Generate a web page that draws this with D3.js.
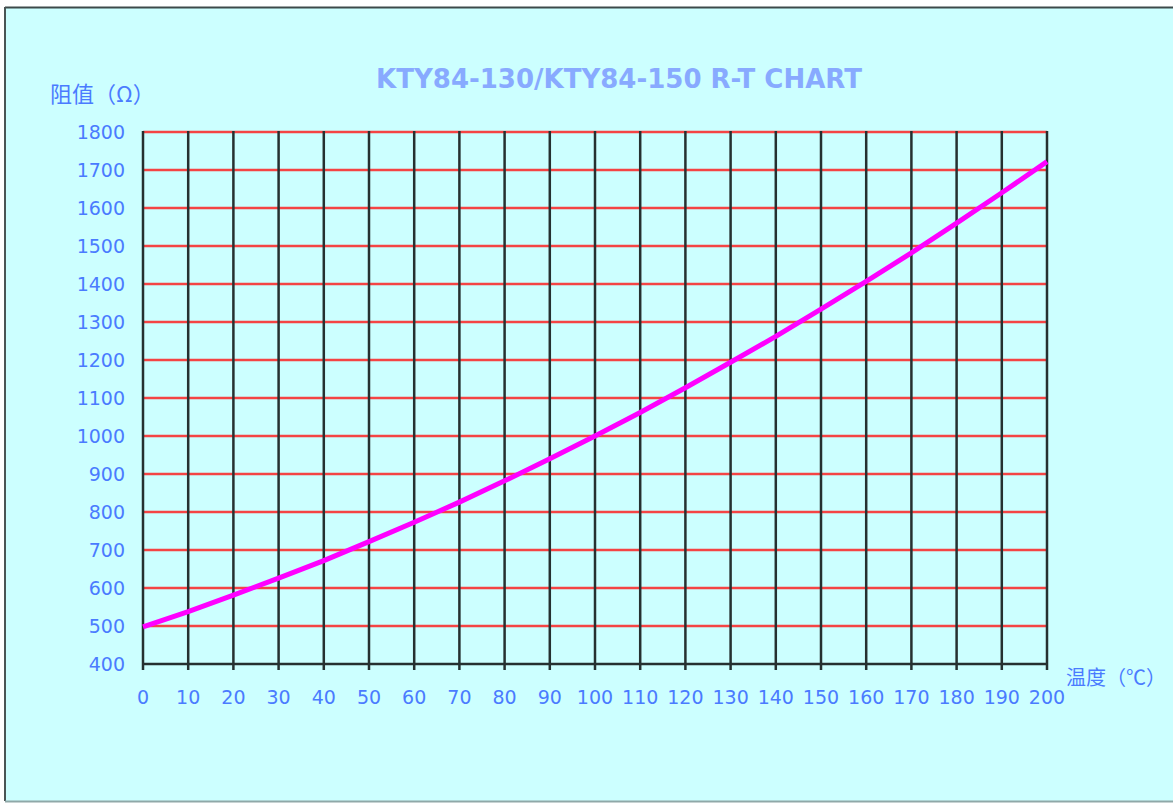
<!DOCTYPE html>
<html>
<head>
<meta charset="utf-8">
<script src="https://cdn.jsdelivr.net/npm/d3@7/dist/d3.min.js"></script>
<style>
  body { margin: 0; background: #fff; }
  svg { display: block; }
</style>
</head>
<body>
<svg id="chart" width="1173" height="803"></svg>
<script>
// R-T values (KTY84-130)
var temps = [0, 10, 20, 30, 40, 50, 60, 70, 80, 90, 100, 110, 120, 130, 140, 150, 160, 170, 180, 190, 200];
var resist = [498, 538, 581, 626, 672, 722, 773, 826, 882, 940, 1000, 1062, 1127, 1194, 1262, 1334, 1407, 1482, 1560, 1640, 1722];
var xTicks = d3.range(0, 201, 10);
var yTicks = d3.range(400, 1801, 100);

var title = 'KTY84-130/KTY84-150 R-T CHART';
var yTitle = '阻值（Ω）';
var xTitle = '温度（℃）';

var svg = d3.select('#chart');
var fontFam = '"DejaVu Sans", Verdana, "Noto Sans CJK SC", sans-serif';
var cjkFam = '"Noto Sans CJK SC", sans-serif';
var labelColor = '#4a7bff';

// background panel
svg.append('rect')
  .attr('x', 5).attr('y', 7)
  .attr('width', 1173).attr('height', 794)
  .attr('fill', '#ccffff');
svg.append('line').attr('x1', 5).attr('x2', 1173).attr('y1', 7.5).attr('y2', 7.5)
  .attr('stroke', '#3d4a4a').attr('stroke-width', 2);
svg.append('line').attr('x1', 5).attr('x2', 5).attr('y1', 7).attr('y2', 801)
  .attr('stroke', '#4a5555').attr('stroke-width', 2);
svg.append('line').attr('x1', 5).attr('x2', 1173).attr('y1', 801.5).attr('y2', 801.5)
  .attr('stroke', '#8fa8a8').attr('stroke-width', 2);

var x = d3.scaleLinear().domain([0, 200]).range([143, 1047]);
var y = d3.scaleLinear().domain([400, 1800]).range([664, 132]);

var g = svg.append('g');

// horizontal red grid
g.selectAll('.hgrid')
  .data(yTicks.filter(function(d) { return d > 400; }))
  .enter().append('line')
  .attr('class', 'hgrid')
  .attr('x1', x(0)).attr('x2', x(200))
  .attr('y1', function(d) { return y(d); })
  .attr('y2', function(d) { return y(d); })
  .attr('stroke', '#f44444')
  .attr('stroke-width', 2.5);

// vertical dark grid, extending below axis as ticks
g.selectAll('.vgrid')
  .data(xTicks)
  .enter().append('line')
  .attr('class', 'vgrid')
  .attr('x1', function(d) { return x(d); })
  .attr('x2', function(d) { return x(d); })
  .attr('y1', y(1800) - 1)
  .attr('y2', y(400) + 6)
  .attr('stroke', '#263030')
  .attr('stroke-width', 2.5);

// bottom axis line
g.append('line')
  .attr('x1', x(0)).attr('x2', x(200))
  .attr('y1', y(400)).attr('y2', y(400))
  .attr('stroke', '#263030')
  .attr('stroke-width', 2.5);

// tick labels
g.selectAll('.ylab')
  .data(yTicks)
  .enter().append('text')
  .attr('x', 125)
  .attr('y', function(d) { return y(d) + 7; })
  .attr('text-anchor', 'end')
  .attr('font-family', fontFam)
  .attr('font-size', '19px')
  .attr('fill', labelColor)
  .text(function(d) { return d; });

g.selectAll('.xlab')
  .data(xTicks)
  .enter().append('text')
  .attr('x', function(d) { return x(d); })
  .attr('y', 704)
  .attr('text-anchor', 'middle')
  .attr('font-family', fontFam)
  .attr('font-size', '19px')
  .attr('fill', labelColor)
  .text(function(d) { return d; });

// curve
var line = d3.line()
  .x(function(d, i) { return x(temps[i]); })
  .y(function(d) { return y(d); });

g.append('path')
  .datum(resist)
  .attr('d', line)
  .attr('fill', 'none')
  .attr('stroke', '#ff00ff')
  .attr('stroke-width', 5)
  .attr('stroke-linejoin', 'round');

// titles
svg.append('text')
  .attr('x', 619).attr('y', 88)
  .attr('text-anchor', 'middle')
  .attr('font-family', fontFam)
  .attr('font-size', '26px')
  .attr('font-weight', 'bold')
  .attr('fill', '#88aaff')
  .text(title);

svg.append('text')
  .attr('x', 50).attr('y', 102)
  .attr('font-family', cjkFam)
  .attr('font-size', '22px')
  .attr('fill', labelColor)
  .text(yTitle);

svg.append('text')
  .attr('x', 1066).attr('y', 685)
  .attr('font-family', cjkFam)
  .attr('font-size', '20px')
  .attr('fill', labelColor)
  .text(xTitle);
</script>
</body>
</html>
